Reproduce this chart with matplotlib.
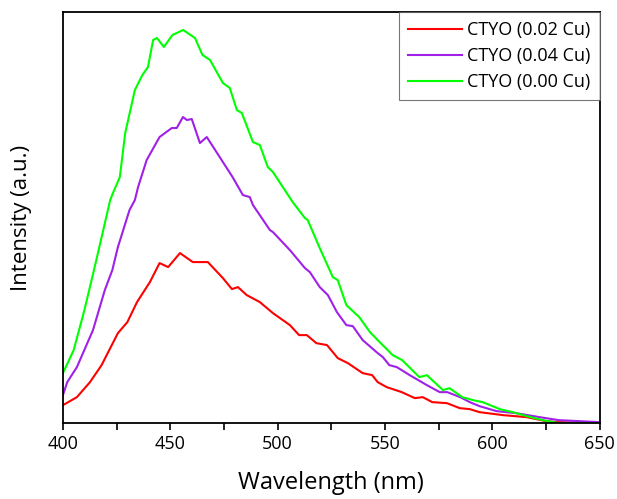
import matplotlib.pyplot as plt
from matplotlib.ticker import MultipleLocator

plt.rcParams['font.family'] = ['Open Sans', 'DejaVu Sans']

# CTYO (0.00 Cu) - green
wl_00 = [400, 405, 410, 415, 419, 422, 423.3, 426.5, 429, 433.5, 437, 439.6, 442, 443.8,
         447, 451, 456, 461.5, 465, 468.5, 474.5, 477.7, 481, 483.3, 488.5, 491.7, 495.4,
         497.8, 507, 512.7, 514, 519.6, 525.7, 528, 532, 538, 543, 546.6, 553.6, 558, 566,
         569.5, 577, 580, 586, 591, 595.5, 603.5, 609.5, 616, 623.5, 631, 650]
int_00 = [50, 73, 113, 158, 195, 223, 230, 246, 290, 333, 348, 356, 383, 385,
          376, 388, 393, 385, 368, 363, 340, 335, 313, 310, 281, 278, 256,
          251, 221, 205, 203, 175, 146, 143, 118, 106, 91, 83, 68, 63, 46,
          48, 33, 35, 26, 23, 21, 14, 11, 7, 3, 0, 0]

# CTYO (0.04 Cu) - purple
wl_04 = [400, 402, 406.5, 414, 419.5, 423, 425.6, 431, 433.5, 435, 439, 445, 450.7, 453,
         455.9, 457.7, 460, 463.8, 467, 473, 479, 483.8, 487, 488.5, 496.4, 497.8, 505.7,
         512.7, 515, 519.6, 523.4, 527.6, 532, 535, 539.6, 546.6, 549, 552, 555.5, 561.5,
         569.5, 575.5, 579, 585, 589.5, 594, 602, 611, 622, 631, 640.6, 650]
int_04 = [28, 41, 56, 93, 133, 153, 176, 213, 223, 236, 263, 286, 295, 295,
          306, 303, 304, 280, 286, 266, 246, 228, 226, 218, 193, 191, 173,
          155, 151, 136, 128, 111, 98, 97, 83, 70, 66, 58, 56, 48,
          38, 31, 31, 26, 21, 17, 12, 10, 6, 3, 2, 1]

# CTYO (0.02 Cu) - red
wl_02 = [400, 406.5, 412.6, 418, 425.6, 430, 434.5, 440.5, 445, 449, 454.5, 460.5, 467.5,
         474.5, 478.7, 481.5, 485.6, 491.7, 497.8, 505.7, 510, 513.6, 518, 523, 528, 532.7,
         539.6, 544, 546.6, 550.8, 557.8, 563.9, 567.6, 572, 578.8, 584.8, 589.5, 594, 605,
         616, 625, 631, 650]
int_02 = [18, 26, 41, 58, 90, 101, 121, 141, 160, 156, 170, 161, 161,
          145, 134, 136, 128, 121, 110, 98, 88, 88, 80, 78, 65, 60,
          50, 48, 41, 36, 31, 25, 26, 21, 20, 15, 14, 11, 8,
          6, 2, 1, 0]

fig = plt.figure(figsize=(6.17, 4.99), dpi=100)
ax = fig.add_axes([0.102, 0.152, 0.870, 0.824])

ax.plot(wl_02, int_02, color='#ff0000', lw=1.5, label='CTYO (0.02 Cu)')
ax.plot(wl_04, int_04, color='#a020e8', lw=1.5, label='CTYO (0.04 Cu)')
ax.plot(wl_00, int_00, color='#00ff00', lw=1.5, label='CTYO (0.00 Cu)')

ax.set_xlim(400, 650)
ax.set_ylim(0, 411)
ax.xaxis.set_major_locator(MultipleLocator(50))
ax.xaxis.set_minor_locator(MultipleLocator(25))
ax.tick_params(axis='x', which='both', direction='out', length=5, width=1.2, labelsize=13)
ax.set_yticks([])
for s in ax.spines.values():
    s.set_linewidth(1.3)

ax.set_xlabel('Wavelength (nm)', fontsize=17, labelpad=13)
ax.set_ylabel('Intensity (a.u.)', fontsize=16, labelpad=22)

leg = ax.legend(loc='upper right', fontsize=13, handlelength=3.0, frameon=True,
                fancybox=False, borderaxespad=0, edgecolor='#555555',
                labelspacing=0.45, borderpad=0.5, handletextpad=0.3)
leg.get_frame().set_linewidth(0.8)

fig.savefig('out.png', dpi=100)
